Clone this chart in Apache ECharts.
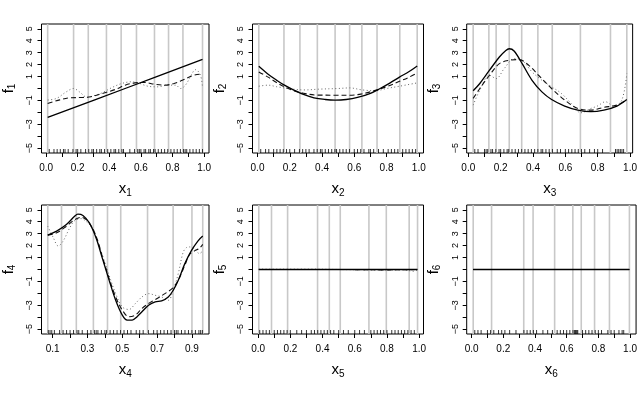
<!DOCTYPE html>
<html><head><meta charset="utf-8">
<script src="https://cdn.jsdelivr.net/npm/echarts@6/dist/echarts.min.js"></script>
<style>html,body{margin:0;padding:0;background:#fff}#c{width:640px;height:397px}</style>
</head><body><div id="c"></div>
<script>
// ---------- data ----------
const yTicks = [-5,-4,-3,-2,-1,0,1,2,3,4,5];
const yLabels = [-5,-3,-1,1,2,3,4,5];
const xTicksA = [0,0.1,0.2,0.3,0.4,0.5,0.6,0.7,0.8,0.9,1.0];
const xLabelsA = [0,0.2,0.4,0.6,0.8,1.0];
const xTicksB = [0.1,0.2,0.3,0.4,0.5,0.6,0.7,0.8,0.9];
const xLabelsB = [0.1,0.3,0.5,0.7,0.9];

const p1Knots = [0.01,0.174,0.267,0.382,0.475,0.572,0.686,0.775,0.866,0.99];
const p1Rug = [0.02,0.05,0.07,0.09,0.11,0.12,0.14,0.17,0.19,0.2,0.22,0.25,0.27,0.29,0.3,0.32,0.34,0.35,0.37,0.39,0.41,0.43,0.44,0.46,0.48,0.49,0.53,0.56,0.58,0.59,0.6,0.62,0.63,0.65,0.66,0.68,0.69,0.71,0.73,0.75,0.77,0.79,0.81,0.83,0.85,0.87,0.88,0.89,0.91,0.93,0.95,0.97,0.99];
const p1True = [[0.01,-2.42],[0.5,0.0],[0.99,2.44]];
const p1Dash = [[0.01,-1.25],[0.087,-0.95],[0.149,-0.78],[0.231,-0.75],[0.283,-0.69],[0.355,-0.42],[0.438,-0.08],[0.5,0.28],[0.562,0.47],[0.624,0.5],[0.686,0.36],[0.748,0.28],[0.81,0.42],[0.862,0.69],[0.934,1.11],[0.975,1.19],[0.99,1.19]];
const p1Dot = [[0.01,-0.97],[0.066,-0.83],[0.128,-0.28],[0.174,0.0],[0.211,-0.28],[0.262,-0.75],[0.293,-0.64],[0.355,-0.36],[0.417,0.08],[0.479,0.42],[0.541,0.56],[0.583,0.47],[0.645,0.19],[0.707,0.14],[0.769,0.28],[0.82,0.28],[0.851,0.0],[0.882,0.28],[0.924,1.25],[0.944,1.58],[0.975,1.19],[0.99,0.08]];

const p2Knots = [0.008,0.164,0.263,0.371,0.481,0.571,0.647,0.741,0.882,0.99];
const p2Rug = [0.02,0.05,0.07,0.1,0.12,0.14,0.16,0.18,0.2,0.23,0.26,0.28,0.3,0.32,0.35,0.37,0.39,0.4,0.42,0.44,0.46,0.48,0.49,0.51,0.53,0.55,0.57,0.6,0.62,0.64,0.66,0.69,0.7,0.72,0.75,0.78,0.81,0.83,0.85,0.87,0.9,0.92,0.94,0.96,0.98];
const p2True = [[0.008,1.86],[0.066,1.2],[0.118,0.7],[0.164,0.3],[0.228,-0.15],[0.285,-0.5],[0.35,-0.78],[0.42,-0.92],[0.481,-0.97],[0.55,-0.92],[0.62,-0.75],[0.7,-0.4],[0.76,0.0],[0.82,0.45],[0.88,0.95],[0.94,1.42],[0.99,1.89]];
const p2Dash = [[0.008,1.39],[0.066,0.95],[0.118,0.5],[0.164,0.15],[0.23,-0.2],[0.285,-0.4],[0.37,-0.55],[0.48,-0.56],[0.571,-0.56],[0.647,-0.45],[0.72,-0.2],[0.8,0.15],[0.88,0.6],[0.94,0.95],[0.99,1.31]];
const p2Dot = [[0.008,0.19],[0.066,0.28],[0.118,0.15],[0.2,-0.02],[0.285,-0.12],[0.39,-0.05],[0.5,0.0],[0.571,0.05],[0.65,-0.12],[0.73,-0.19],[0.8,0.0],[0.88,0.19],[0.99,0.47]];

const p3Knots = [0.03,0.127,0.172,0.253,0.33,0.43,0.519,0.693,0.879,0.98];
const p3Rug = [0.04,0.06,0.1,0.11,0.12,0.14,0.15,0.17,0.19,0.2,0.22,0.24,0.25,0.27,0.29,0.31,0.33,0.35,0.37,0.39,0.41,0.43,0.45,0.46,0.48,0.5,0.52,0.55,0.57,0.6,0.62,0.64,0.66,0.68,0.7,0.72,0.75,0.78,0.8,0.83,0.91,0.92,0.93,0.94,0.95,0.96];
const p3True = [[0.03,-0.19],[0.071,0.42],[0.131,1.53],[0.192,2.64],[0.232,3.19],[0.253,3.33],[0.283,3.14],[0.333,2.08],[0.394,0.69],[0.455,-0.28],[0.515,-0.92],[0.596,-1.47],[0.677,-1.81],[0.758,-1.94],[0.838,-1.81],[0.919,-1.47],[0.98,-0.92]];
const p3Dash = [[0.03,-0.83],[0.071,0.0],[0.131,1.11],[0.192,2.08],[0.253,2.36],[0.313,2.42],[0.374,1.94],[0.434,1.11],[0.515,0.0],[0.596,-0.97],[0.677,-1.67],[0.758,-1.81],[0.838,-1.58],[0.919,-1.39],[0.98,-0.92]];
const p3Dot = [[0.03,-1.39],[0.071,-0.14],[0.131,1.11],[0.172,0.83],[0.222,1.67],[0.283,2.5],[0.333,2.36],[0.394,1.39],[0.455,0.69],[0.515,0.14],[0.576,-0.42],[0.636,-1.25],[0.697,-2.03],[0.758,-1.67],[0.798,-1.47],[0.848,-1.11],[0.899,-1.47],[0.949,-0.97],[0.98,1.25]];

const p4Knots = [0.072,0.151,0.236,0.334,0.415,0.491,0.645,0.792,0.9,0.962];
const p4Rug = [0.075,0.085,0.095,0.11,0.14,0.16,0.18,0.2,0.22,0.24,0.25,0.27,0.3,0.32,0.34,0.35,0.36,0.38,0.4,0.41,0.43,0.45,0.47,0.49,0.51,0.53,0.55,0.58,0.6,0.62,0.65,0.68,0.7,0.72,0.74,0.76,0.78,0.8,0.81,0.82,0.84,0.86,0.88,0.9,0.92,0.94,0.95,0.96];
const p4True = [[0.072,2.88],[0.123,3.21],[0.179,3.76],[0.226,4.45],[0.245,4.64],[0.274,4.53],[0.311,3.9],[0.349,2.66],[0.387,0.87],[0.425,-0.92],[0.462,-2.58],[0.5,-3.82],[0.528,-4.23],[0.557,-4.23],[0.585,-3.95],[0.613,-3.54],[0.651,-2.99],[0.689,-2.71],[0.726,-2.63],[0.764,-2.3],[0.792,-1.75],[0.821,-0.92],[0.858,0.45],[0.896,1.56],[0.934,2.38],[0.962,2.8]];
const p4Dash = [[0.072,2.88],[0.123,3.07],[0.179,3.62],[0.226,4.17],[0.264,4.37],[0.302,4.04],[0.349,2.8],[0.387,1.0],[0.425,-0.79],[0.462,-2.3],[0.5,-3.4],[0.538,-3.95],[0.575,-3.82],[0.613,-3.26],[0.651,-2.85],[0.689,-2.52],[0.745,-2.02],[0.792,-1.53],[0.821,-0.92],[0.858,0.32],[0.887,1.28],[0.915,1.56],[0.943,1.78],[0.962,2.1]];
const p4Dot = [[0.072,3.62],[0.104,2.66],[0.132,1.97],[0.16,2.38],[0.198,3.48],[0.226,4.09],[0.264,4.26],[0.302,3.9],[0.33,3.48],[0.358,2.38],[0.387,1.14],[0.425,-0.51],[0.462,-2.02],[0.5,-3.13],[0.538,-3.35],[0.575,-2.85],[0.613,-2.3],[0.651,-2.02],[0.689,-2.16],[0.726,-2.3],[0.764,-2.58],[0.792,-1.75],[0.821,-0.37],[0.849,1.42],[0.868,1.83],[0.887,1.89],[0.915,1.69],[0.943,1.34],[0.962,1.56]];

const p5Knots = [0.004,0.083,0.183,0.369,0.442,0.51,0.688,0.796,0.938,0.99];
const p5Rug = [0.01,0.03,0.05,0.07,0.1,0.12,0.14,0.16,0.18,0.2,0.24,0.27,0.3,0.33,0.35,0.37,0.39,0.41,0.43,0.45,0.47,0.5,0.53,0.56,0.6,0.63,0.66,0.7,0.72,0.74,0.76,0.78,0.8,0.83,0.85,0.87,0.89,0.91,0.93,0.95,0.97];
const p5True = [[0.004,0],[0.99,0]];
const p5Dash = [[0.004,0.0],[0.5,0.0],[0.8,-0.03],[0.99,0.0]];
const p5Dot = [[0.004,0.03],[0.3,0.03],[0.6,-0.02],[0.8,-0.05],[0.9,-0.03],[0.97,-0.15],[0.99,0.0]];

const p6Knots = [0.01,0.126,0.329,0.388,0.524,0.639,0.692,0.776,0.87,0.996];
const p6Rug = [0.02,0.04,0.06,0.1,0.12,0.14,0.17,0.19,0.21,0.24,0.28,0.33,0.35,0.37,0.39,0.41,0.45,0.48,0.51,0.54,0.56,0.58,0.6,0.62,0.64,0.65,0.655,0.66,0.665,0.67,0.7,0.72,0.74,0.76,0.78,0.8,0.82,0.86,0.88,0.9,0.93,0.95,0.96];
const p6True = [[0.01,0],[0.996,0]];
const p6Dash = [[0.01,0.0],[0.5,0.0],[0.996,0.0]];
const p6Dot = [[0.01,0.0],[0.5,0.0],[0.996,0.0]];

// ---------- layout ----------
const FONT = 'Liberation Sans, Arial, Helvetica, sans-serif';
const W = 171, H = 129;
const panels = [
  {left:38,   top:24,  xmin:-0.029, xmax:1.031, ticks:xTicksA, labels:xLabelsA, k:p1Knots, r:p1Rug, t:p1True, d:p1Dash, o:p1Dot},
  {left:252.5,top:24,  xmin:-0.031, xmax:1.029, ticks:xTicksA, labels:xLabelsA, k:p2Knots, r:p2Rug, t:p2True, d:p2Dash, o:p2Dot},
  {left:466.7,top:24,  xmin:-0.01,  xmax:1.016, ticks:xTicksA, labels:xLabelsA, k:p3Knots, r:p3Rug, t:p3True, d:p3Dash, o:p3Dot},
  {left:38,   top:205, xmin:0.036,  xmax:0.998, ticks:xTicksB, labels:xLabelsB, k:p4Knots, r:p4Rug, t:p4True, d:p4Dash, o:p4Dot},
  {left:252.5,top:205, xmin:-0.035, xmax:1.027, ticks:xTicksA, labels:xLabelsA, k:p5Knots, r:p5Rug, t:p5True, d:p5Dash, o:p5Dot},
  {left:466.7,top:205, xmin:-0.031, xmax:1.038, ticks:xTicksA, labels:xLabelsA, k:p6Knots, r:p6Rug, t:p6True, d:p6Dash, o:p6Dot}
];
const YMIN = -5.4, YMAX = 5.4;

const grid = [], xAxis = [], yAxis = [], series = [];
const rich = {
  a: {fontSize: 15, fontFamily: FONT, color: '#000'},
  b: {fontSize: 10, fontFamily: FONT, color: '#000', padding: [8, 0, 0, 0]}
};
panels.forEach((p, i) => {
  grid.push({left: p.left, top: p.top, width: W, height: H, show: true, borderColor: '#000', borderWidth: 1, backgroundColor: 'transparent'});
  xAxis.push({
    gridIndex: i, type: 'value', min: p.xmin, max: p.xmax, position: 'bottom',
    axisLine: {show: false, onZero: false}, splitLine: {show: false},
    axisTick: {show: true, inside: false, length: 4, customValues: p.ticks, lineStyle: {color: '#000', width: 1}},
    axisLabel: {customValues: p.labels, formatter: v => v.toFixed(1), fontSize: 10, color: '#000', fontFamily: FONT, margin: 10},
    name: '{a|x}{b|' + (i + 1) + '}', nameLocation: 'middle', nameGap: 27, nameTextStyle: {rich: rich}
  });
  yAxis.push({
    gridIndex: i, type: 'value', min: YMIN, max: YMAX, position: 'left',
    axisLine: {show: false, onZero: false}, splitLine: {show: false},
    axisTick: {show: true, inside: false, length: 4, customValues: yTicks, lineStyle: {color: '#000', width: 1}},
    axisLabel: {customValues: yLabels, rotate: 90, formatter: v => (v < 0 ? '\u2212' + (-v) : String(v)), fontSize: 9, color: '#000', fontFamily: FONT, margin: 7},
    name: '{a|f}{b|' + (i + 1) + '}', nameLocation: 'middle', nameGap: 24, nameRotate: 90, nameTextStyle: {rich: rich}
  });
  series.push({
    type: 'custom', xAxisIndex: i, yAxisIndex: i, silent: true,
    data: p.k.map(v => [v, 0]), encode: {x: 0, y: 1},
    renderItem: (params, api) => {
      const a = api.coord([api.value(0), YMAX]);
      const b = api.coord([api.value(0), YMIN]);
      return {type: 'line', shape: {x1: a[0], y1: a[1], x2: b[0], y2: b[1]}, style: {stroke: '#c8c8c8', lineWidth: 1.6}};
    }
  });
  series.push({
    type: 'custom', xAxisIndex: i, yAxisIndex: i, silent: true,
    data: p.r.map(v => [v, YMIN]), encode: {x: 0, y: 1},
    renderItem: (params, api) => {
      const b = api.coord([api.value(0), YMIN]);
      return {type: 'line', shape: {x1: b[0], y1: b[1], x2: b[0], y2: b[1] - 4}, style: {stroke: '#000', lineWidth: 0.8}};
    }
  });
  series.push({type: 'line', xAxisIndex: i, yAxisIndex: i, data: p.o, showSymbol: false, smooth: 0.35, silent: true,
    lineStyle: {color: '#666', width: 1, type: [1, 2.5]}});
  series.push({type: 'line', xAxisIndex: i, yAxisIndex: i, data: p.d, showSymbol: false, smooth: 0.35, silent: true,
    lineStyle: {color: '#111', width: 1.1, type: [5, 3]}});
  series.push({type: 'line', xAxisIndex: i, yAxisIndex: i, data: p.t, showSymbol: false, smooth: 0.35, silent: true,
    lineStyle: {color: '#000', width: 1.3}});
});

const chart = echarts.init(document.getElementById('c'), null, {renderer: 'canvas'});
chart.setOption({animation: false, backgroundColor: '#fff', grid, xAxis, yAxis, series});
</script></body></html>
